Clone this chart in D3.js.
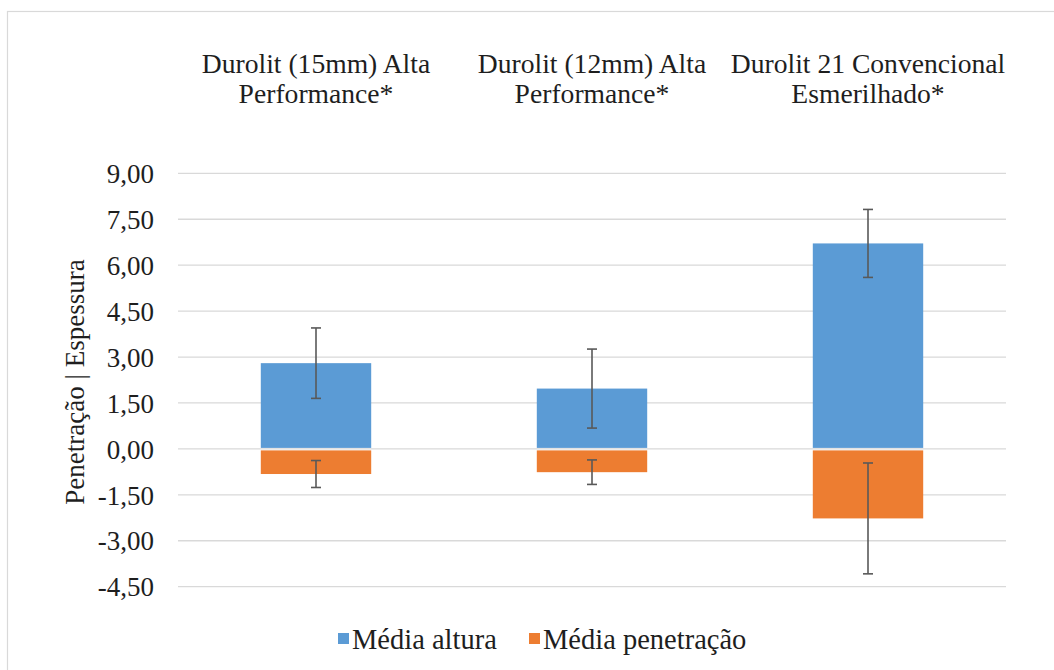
<!DOCTYPE html>
<html>
<head>
<meta charset="utf-8">
<script src="https://cdn.jsdelivr.net/npm/d3@7"></script>
<style>
  html, body { margin: 0; padding: 0; background: #fff; }
  svg { display: block; }
</style>
</head>
<body>
<svg id="chart" width="1054" height="670"></svg>
<script>
// Categories (each label split over two lines)
const categories = ["Durolit (15mm) Alta Performance*", "Durolit (12mm) Alta Performance*", "Durolit 21 Convencional Esmerilhado*"];
const categoryLines = [["Durolit (15mm) Alta", "Performance*"], ["Durolit (12mm) Alta", "Performance*"], ["Durolit 21 Convencional", "Esmerilhado*"]];

// Series: mean height (positive) and mean penetration (negative), with error margins
const mediaAltura = [2.80, 1.97, 6.71];
const erroAltura = [1.15, 1.29, 1.11];
const mediaPenetracao = [-0.82, -0.76, -2.27];
const erroPenetracao = [0.44, 0.40, 1.81];

const seriesNames = ["Média altura", "Média penetração"];
const yTicks = [-4.5, -3, -1.5, 0, 1.5, 3, 4.5, 6, 7.5, 9];
const yTitle = "Penetração | Espessura";

const colors = ["#5b9bd5", "#ed7d31"];
const FONT = "'Liberation Serif', 'Times New Roman', serif";
const TEXT_COLOR = "#1e1e1e";

const svg = d3.select("#chart");
const plot = { left: 178, right: 1006, top: 173.3, bottom: 586.7 };

function label(sel, size) {
  return sel.style("font-family", FONT).style("font-size", size + "px").style("fill", TEXT_COLOR);
}

// Chart area frame
svg.append("rect")
  .attr("x", 7.5).attr("y", 11.5)
  .attr("width", 1060).attr("height", 680)
  .attr("fill", "#fff").attr("stroke", "#d9d9d9").attr("stroke-width", 1.2);

const x = d3.scaleBand().domain(categories).range([plot.left, plot.right]).padding(0);
const y = d3.scaleLinear().domain([-4.5, 9]).range([plot.bottom, plot.top]);
const barW = x.bandwidth() * 0.4;
const fmt = v => d3.format(".2f")(v).replace(".", ",").replace("\u2212", "-");

// Gridlines
svg.append("g").selectAll("line").data(yTicks).join("line")
  .attr("x1", plot.left).attr("x2", plot.right)
  .attr("y1", d => y(d)).attr("y2", d => y(d))
  .attr("stroke", "#d9d9d9").attr("stroke-width", 1.3);

// Y axis labels
const yAxis = d3.axisLeft(y).tickValues(yTicks).tickFormat(fmt).tickSize(0).tickPadding(0);
const yg = svg.append("g").attr("transform", `translate(${plot.left - 24},0)`).call(yAxis);
yg.attr("font-family", null).attr("font-size", null);
yg.select(".domain").remove();
label(yg.selectAll("text"), 27).attr("fill", null).attr("dy", "0.34em");

// Y axis title
label(svg.append("text"), 27)
  .attr("transform", `translate(84,${(plot.top + plot.bottom) / 2 + 2}) rotate(-90)`)
  .attr("text-anchor", "middle")
  .text(yTitle);

// Category labels above the plot
const catG = label(svg.append("g").selectAll("text").data(categories).join("text"), 27.6)
  .attr("text-anchor", "middle")
  .attr("x", d => x(d) + x.bandwidth() / 2);
catG.each(function (d, i) {
  const t = d3.select(this);
  categoryLines[i].forEach((line, j) => {
    t.append("tspan").attr("x", x(d) + x.bandwidth() / 2).attr("y", 73 + j * 30).text(line);
  });
});

// Bars
const y0 = y(0);
const bars = svg.append("g");
bars.selectAll("rect.alt").data(categories).join("rect")
  .attr("class", "alt")
  .attr("x", d => x(d) + (x.bandwidth() - barW) / 2)
  .attr("width", barW)
  .attr("y", (d, i) => y(mediaAltura[i]))
  .attr("height", (d, i) => y0 - 1 - y(mediaAltura[i]))
  .attr("fill", colors[0]);
bars.selectAll("rect.pen").data(categories).join("rect")
  .attr("class", "pen")
  .attr("x", d => x(d) + (x.bandwidth() - barW) / 2)
  .attr("width", barW)
  .attr("y", y0 + 1.5)
  .attr("height", (d, i) => y(mediaPenetracao[i]) - y0 - 1.5)
  .attr("fill", colors[1]);

// Error bars
function errorBars(means, errs) {
  const g = svg.append("g").attr("stroke", "#595959").attr("stroke-width", 1.6);
  categories.forEach((c, i) => {
    const cx = x(c) + x.bandwidth() / 2;
    const hi = y(means[i] + errs[i]);
    const lo = y(means[i] - errs[i]);
    g.append("line").attr("x1", cx).attr("x2", cx).attr("y1", hi).attr("y2", lo);
    g.append("line").attr("x1", cx - 5).attr("x2", cx + 5).attr("y1", hi).attr("y2", hi);
    g.append("line").attr("x1", cx - 5).attr("x2", cx + 5).attr("y1", lo).attr("y2", lo);
  });
}
errorBars(mediaAltura, erroAltura);
errorBars(mediaPenetracao, erroPenetracao);

// Legend
const legendItems = [{ name: seriesNames[0], color: colors[0], x: 338 }, { name: seriesNames[1], color: colors[1], x: 529 }];
const lg = svg.append("g");
legendItems.forEach(it => {
  lg.append("rect").attr("x", it.x).attr("y", 633).attr("width", 11).attr("height", 11).attr("fill", it.color);
  label(lg.append("text"), 28.5).attr("x", it.x + 14).attr("y", 649).text(it.name);
});
</script>
</body>
</html>
